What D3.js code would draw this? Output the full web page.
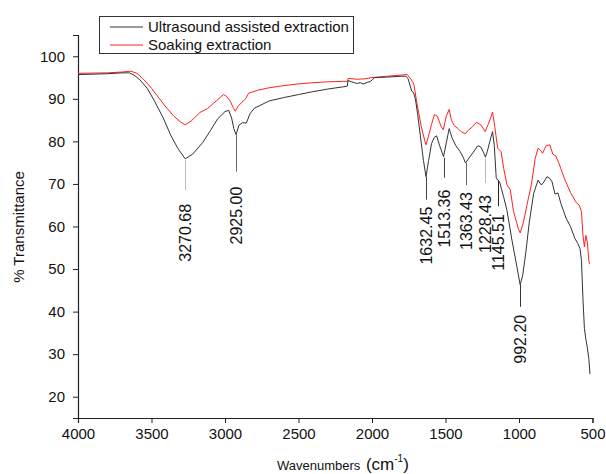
<!DOCTYPE html>
<meta charset="utf-8">
<style>
    html,
    body {
        margin: 0;
        padding: 0;
        background: #fff;
    }

    svg {
        display: block;
        font-family: Arial, "Liberation Sans", sans-serif;
    }
</style>

<body>
    <svg width="606" height="474"></svg>
    <script src="https://cdn.jsdelivr.net/npm/d3@7/dist/d3.min.js"></script>
    <script>
        // series: [wavenumber, % transmittance]
        const ultrasound = [
            [4000, 95.7], [3800, 95.9], [3700, 96.1], [3650, 96.1], [3620, 95.6], [3580, 94.5],
            [3530, 92.5], [3480, 89.5], [3420, 85.5], [3370, 81.5], [3320, 78.3], [3270.68, 75.9],
            [3220, 77.0], [3150, 79.8], [3100, 82.5], [3050, 85.3], [3000, 87.0], [2975, 87.3],
            [2955, 85.5], [2940, 83.0], [2925, 81.6], [2905, 83.8], [2880, 84.4], [2855, 84.3],
            [2830, 86.5], [2800, 87.8], [2700, 89.5], [2600, 90.3], [2500, 91.0], [2400, 91.7],
            [2300, 92.3], [2200, 92.8], [2168, 93.0], [2163, 94.3], [2140, 94.0], [2120, 93.8],
            [2100, 93.6], [2080, 93.8], [2060, 93.5], [2030, 93.9], [2010, 94.1], [1995, 94.6],
            [1980, 95.0], [1900, 95.1], [1800, 95.3], [1770, 95.3], [1755, 94.8], [1740, 93.0],
            [1730, 91.8], [1718, 91.5], [1705, 90.0], [1690, 86.5], [1670, 81.0], [1650, 75.5],
            [1632.45, 71.7], [1615, 75.5], [1595, 79.5], [1575, 81.0], [1560, 81.3], [1540, 79.0],
            [1513.36, 76.4], [1495, 79.6], [1475, 83.0], [1455, 80.8], [1430, 79.0], [1400, 77.6],
            [1380, 76.3], [1363.43, 74.9], [1340, 76.1], [1310, 77.5], [1280, 79.0], [1260, 78.7],
            [1240, 77.3], [1228.43, 76.3], [1215, 77.7], [1200, 79.8], [1180, 82.3], [1168, 79.0],
            [1155, 71.5], [1145.51, 70.9], [1132, 70.5], [1105, 67.0], [1082, 63.8], [1048, 56.8],
            [1014, 50.5], [992.2, 46.3], [975, 48.5], [955, 53.5], [930, 61.0], [900, 67.8],
            [870, 70.9], [850, 69.8], [835, 70.2], [810, 71.7], [790, 71.3], [775, 70.5],
            [755, 67.6], [735, 67.9], [715, 65.4], [680, 62.0], [650, 60.0], [620, 57.2],
            [600, 56.0], [585, 54.8], [575, 52.0], [565, 43.0], [555, 36.0], [545, 33.5],
            [535, 31.5], [525, 29.0], [517, 25.3]
        ];
        const soaking = [
            [4000, 96.0], [3800, 96.1], [3700, 96.3], [3640, 96.5], [3600, 96.0], [3560, 94.8],
            [3500, 92.5], [3450, 90.2], [3400, 88.0], [3350, 86.0], [3300, 84.5], [3270, 83.9],
            [3230, 84.8], [3170, 86.8], [3120, 87.7], [3060, 89.5], [3010, 91.0], [2990, 90.6],
            [2965, 89.5], [2945, 88.0], [2930, 87.1], [2910, 88.3], [2885, 89.2], [2860, 90.0],
            [2840, 91.3], [2780, 92.0], [2700, 92.6], [2600, 93.1], [2500, 93.5], [2400, 93.8],
            [2300, 94.0], [2200, 94.1], [2168, 94.1], [2162, 94.8], [2100, 94.6], [2050, 94.7],
            [2000, 95.0], [1900, 95.3], [1800, 95.6], [1760, 95.7], [1735, 94.6], [1715, 93.4],
            [1695, 89.1], [1665, 83.5], [1640, 80.0], [1632, 79.2], [1610, 82.0], [1595, 84.0],
            [1575, 86.3], [1555, 85.9], [1530, 83.5], [1515, 82.7], [1495, 85.9], [1475, 87.5],
            [1460, 85.0], [1440, 83.7], [1415, 83.0], [1395, 82.3], [1365, 81.8], [1340, 82.8],
            [1320, 83.3], [1290, 84.5], [1260, 83.9], [1230, 82.3], [1210, 84.0], [1195, 85.3],
            [1180, 86.9], [1165, 83.5], [1145, 78.4], [1122, 77.6], [1104, 73.6], [1082, 69.8],
            [1059, 68.6], [1037, 63.5], [1003, 59.3], [992, 58.5], [970, 61.0], [940, 66.0],
            [915, 70.0], [890, 76.0], [870, 78.4], [855, 78.0], [840, 77.2], [815, 79.0],
            [790, 79.2], [770, 77.0], [750, 76.6], [730, 75.0], [690, 71.2], [650, 68.0],
            [610, 65.6], [590, 65.0], [575, 63.5], [565, 58.0], [555, 55.2], [545, 57.9],
            [535, 56.3], [525, 52.0], [520, 51.2]
        ];
        const seriesNames = ["Ultrasound assisted extraction", "Soaking extraction"];
        const peakWavenumbers = [3270.68, 2925.00, 1632.45, 1513.36, 1363.43, 1228.43, 1145.51, 992.20];
        const peakLabels = ["3270.68", "2925.00", "1632.45", "1513.36", "1363.43", "1228.43", "1145.51", "992.20"];
        const xTicks = [4000, 3500, 3000, 2500, 2000, 1500, 1000, 500];
        const yTicks = [20, 30, 40, 50, 60, 70, 80, 90, 100];

        // leader layout per peak: [offset from curve, line length, gap to text, line colour]
        const leaders = [
            [1, 30, 14, "#bbb"], [0, 37, 15, "#666"], [0, 23, 7, "#444"], [1, 20, 12, "#444"],
            [0, 22, 7, "#666"], [1, 25, 12, "#bbb"], [0, 26, 8, "#222"], [0, 22, 8, "#333"]
        ];

        const svg = d3.select("svg");
        const x = d3.scaleLinear().domain([4000, 500]).range([78, 592.5]);
        const y = d3.scaleLinear().domain([15, 105]).range([418, 35]);

        // axes
        const xAxis = svg.append("g").attr("transform", "translate(0,418)");
        xAxis.call(d3.axisBottom(x).tickValues(d3.range(4000, 499, -250)).tickSize(4).tickFormat(""));
        xAxis.call(d3.axisBottom(x).tickValues(xTicks).tickSize(5).tickPadding(5).tickFormat(d3.format("d")));
        const yAxis = svg.append("g").attr("transform", "translate(78,0)");
        yAxis.call(d3.axisLeft(y).tickValues(d3.range(20, 105, 5)).tickSize(4).tickFormat(""));
        yAxis.call(d3.axisLeft(y).tickValues(yTicks).tickSize(5).tickPadding(8).tickFormat(d3.format("d")));
        svg.selectAll(".domain").attr("stroke", "#222").attr("stroke-width", 1.2);
        svg.selectAll(".tick line").attr("stroke", "#222");
        svg.selectAll(".tick text").attr("font-size", 15).attr("fill", "#111")
            .attr("font-family", "Arial, 'Liberation Sans', sans-serif");

        svg.append("text")
            .attr("transform", "translate(24,227) rotate(-90)")
            .attr("text-anchor", "middle")
            .attr("font-size", 15)
            .attr("fill", "#111")
            .text("% Transmittance");
        const xt = svg.append("text").attr("x", 277).attr("y", 470).attr("fill", "#111");
        xt.append("tspan").attr("font-size", 13).text("Wavenumbers ");
        xt.append("tspan").attr("font-size", 17).attr("dx", 2).text("(cm");
        xt.append("tspan").attr("font-size", 10).attr("dy", -8).text("-1");
        xt.append("tspan").attr("font-size", 17).attr("dy", 8).text(")");

        // curves
        const line = d3.line().x(d => x(d[0])).y(d => y(d[1]));
        svg.append("path").datum(soaking)
            .attr("fill", "none").attr("stroke", "#ff2020").attr("stroke-width", 1).attr("d", line);
        svg.append("path").datum(ultrasound)
            .attr("fill", "none").attr("stroke", "#333").attr("stroke-width", 1).attr("d", line);

        // peak markers
        const valueAt = wn => {
            const i = ultrasound.findIndex(d => d[0] <= wn);
            const a = ultrasound[i - 1], b = ultrasound[i];
            return a[1] + (b[1] - a[1]) * (wn - a[0]) / (b[0] - a[0]);
        };
        peakWavenumbers.forEach((wn, i) => {
            const [off, len, gap, col] = leaders[i];
            const px = Math.round(x(wn)) + 0.5;
            const y0 = y(valueAt(wn)) + off;
            svg.append("line")
                .attr("x1", px).attr("x2", px)
                .attr("y1", y0).attr("y2", y0 + len)
                .attr("stroke", col).attr("stroke-width", 1);
            svg.append("text")
                .attr("transform", `translate(${px},${y0 + len + gap}) rotate(-90)`)
                .attr("text-anchor", "end")
                .attr("dy", "0.36em")
                .attr("font-size", 16)
                .attr("fill", "#111")
                .text(peakLabels[i]);
        });

        // legend
        const legend = svg.append("g");
        legend.append("rect")
            .attr("x", 99.5).attr("y", 16.5).attr("width", 254).attr("height", 37)
            .attr("fill", "#fff").attr("stroke", "#333");
        ["#333", "#ff2020"].forEach((c, i) => {
            const ly = 27 + i * 18;
            legend.append("line").attr("x1", 110).attr("x2", 143).attr("y1", ly).attr("y2", ly)
                .attr("stroke", c).attr("stroke-width", 1);
            legend.append("text").attr("x", 148).attr("y", ly).attr("dy", "0.35em")
                .attr("font-size", 15).attr("fill", "#111").text(seriesNames[i]);
        });
    </script>
</body>

</html>
